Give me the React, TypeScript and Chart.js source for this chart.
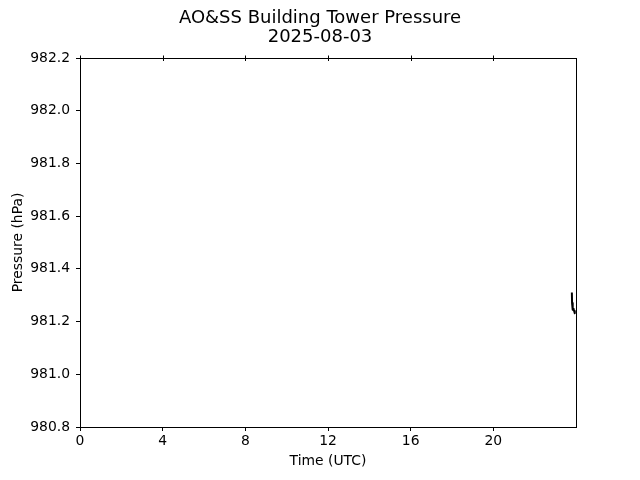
import React, { useEffect, useRef } from "react";
import { Chart, registerables } from "chart.js";

Chart.register(...registerables);

const titleLines = ["AO&SS Building Tower Pressure", "2025-08-03"];
const xLabel = "Time (UTC)";
const yLabel = "Pressure (hPa)";
const xTicks = [0, 4, 8, 12, 16, 20];
const yTicks = [980.8, 981.0, 981.2, 981.4, 981.6, 981.8, 982.0, 982.2];
const timeHours = [23.8, 23.81, 23.83, 23.85, 23.87, 23.89, 23.91, 23.93, 23.95, 23.97];
const pressure = [981.31, 981.27, 981.25, 981.245, 981.248, 981.242, 981.24, 981.235, 981.232, 981.23];

const FONT = "'DejaVu Sans', sans-serif";

const framePlugin = {
  id: "frame",
  afterDraw(chart: any) {
    const { ctx, chartArea } = chart;
    const { left, right, top, bottom } = chartArea;
    ctx.save();
    ctx.strokeStyle = "#000";
    ctx.lineWidth = 1;
    ctx.strokeRect(Math.round(left) + 0.5, Math.round(top) + 0.5, Math.round(right - left), Math.round(bottom - top));
    const xs = chart.scales.x;
    xTicks.forEach((t) => {
      const px = Math.round(xs.getPixelForValue(t)) + 0.5;
      ctx.beginPath();
      ctx.moveTo(px, top - 2.5);
      ctx.lineTo(px, top + 3);
      ctx.stroke();
    });
    ctx.fillStyle = "#000";
    ctx.textAlign = "center";
    ctx.textBaseline = "middle";
    ctx.font = `18px ${FONT}`;
    ctx.fillText(titleLines[0], 320, 18);
    ctx.fillText(titleLines[1], 320, 37);
    ctx.font = `13.9px ${FONT}`;
    ctx.fillText(xLabel, (left + right) / 2, 461);
    ctx.translate(18, (top + bottom) / 2);
    ctx.rotate(-Math.PI / 2);
    ctx.fillText(yLabel, 0, 0);
    ctx.restore();
  },
};

export default function App() {
  const ref = useRef<HTMLCanvasElement>(null);
  useEffect(() => {
    if (!ref.current) return;
    const chart = new Chart(ref.current, {
      type: "line",
      data: {
        datasets: [
          {
            data: timeHours.map((t, i) => ({ x: t, y: pressure[i] })),
            borderColor: "#000",
            borderWidth: 2,
            borderJoinStyle: "round",
            borderCapStyle: "butt",
            pointRadius: 0,
            tension: 0,
            fill: false,
          },
        ],
      },
      options: {
        responsive: false,
        animation: false,
        devicePixelRatio: 1,
        layout: { padding: { top: 58, right: 64, left: 0, bottom: 0 } },
        plugins: { legend: { display: false }, title: { display: false }, tooltip: { enabled: false } },
        scales: {
          x: {
            type: "linear",
            min: 0,
            max: 24,
            afterBuildTicks: (s: any) => {
              s.ticks = xTicks.map((v) => ({ value: v }));
            },
            afterFit: (s: any) => {
              s.height = 53;
            },
            grid: { drawOnChartArea: false, tickLength: 4, tickColor: "#000" },
            border: { color: "#000" },
            ticks: { color: "#000", font: { family: FONT, size: 13.9 }, padding: 2, maxRotation: 0 },
          },
          y: {
            type: "linear",
            min: 980.8,
            max: 982.2,
            afterBuildTicks: (s: any) => {
              s.ticks = yTicks.map((v) => ({ value: v }));
            },
            afterFit: (s: any) => {
              s.width = 80;
            },
            grid: { drawOnChartArea: false, tickLength: 4, tickColor: "#000" },
            border: { color: "#000" },
            ticks: {
              color: "#000",
              font: { family: FONT, size: 13.9 },
              padding: 6,
              callback: (v: any) => Number(v).toFixed(1),
            },
          },
        },
      },
      plugins: [framePlugin],
    });
    return () => chart.destroy();
  }, []);
  return (
    <div style={{ position: "fixed", left: 0, top: 0, width: 640, height: 480, background: "#fff" }}>
      <canvas ref={ref} width={640} height={480} style={{ width: 640, height: 480 }} />
    </div>
  );
}
